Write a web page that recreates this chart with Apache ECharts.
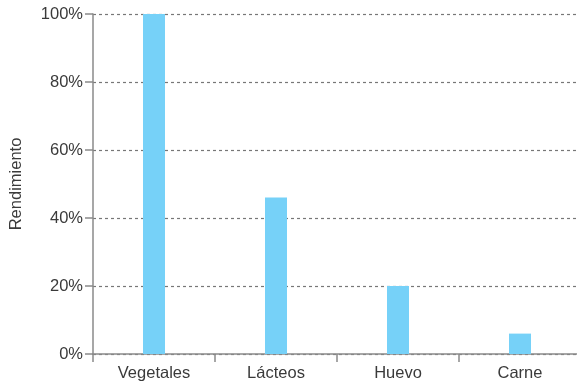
<!DOCTYPE html>
<html>
<head>
<meta charset="utf-8">
<script src="https://cdn.jsdelivr.net/npm/echarts@6/dist/echarts.min.js"></script>
<style>
	html, body { margin: 0; padding: 0; background: #fff; }
	#chart { width: 577px; height: 384px; }
</style>
</head>
<body>
<div id="chart"></div>
<script>
	/*数据*/
	var categories = ["Vegetales", "Lácteos", "Huevo", "Carne"];
	var values = [100, 46, 20, 6];
	var yTicks = [0, 20, 40, 60, 80, 100];

	var textColor = "#3a3a3a";
	var axisColor = "#8a8a8a";
	var fontName = "Liberation Sans";

	var option = {
		animation: false,
		grid: {
			left: 93,
			top: 14,
			width: 488,
			height: 340,
			containLabel: false,
			outerBoundsMode: "none"
		},
		xAxis: {
			type: "category",
			data: categories,
			axisLine: { lineStyle: { color: axisColor, width: 1.5 } },
			axisTick: { show: true, length: 8, lineStyle: { color: axisColor, width: 1.5 } },
			axisLabel: {
				color: textColor,
				fontSize: 16.5,
				fontFamily: fontName,
				margin: 11
			}
		},
		yAxis: {
			type: "value",
			min: yTicks[0],
			max: yTicks[yTicks.length - 1],
			interval: 20,
			name: "Rendimiento",
			nameLocation: "middle",
			nameRotate: 90,
			nameGap: 68,
			nameTextStyle: { color: textColor, fontSize: 16.5, fontFamily: fontName },
			axisLine: { show: true, lineStyle: { color: axisColor, width: 1.5 } },
			axisTick: { show: true, length: 8, lineStyle: { color: axisColor, width: 1.5 } },
			axisLabel: {
				color: textColor,
				fontSize: 16.5,
				fontFamily: fontName,
				margin: 10,
				formatter: "{value}%"
			},
			splitLine: {
				show: true,
				lineStyle: { color: "#777", type: [3, 3], width: 1.2 }
			}
		},
		series: [{
			type: "bar",
			data: values,
			barWidth: 22,
			itemStyle: { color: "#76d1f8" }
		}]
	};

	var chart = echarts.init(document.getElementById("chart"));
	chart.setOption(option);
</script>
</body>
</html>
